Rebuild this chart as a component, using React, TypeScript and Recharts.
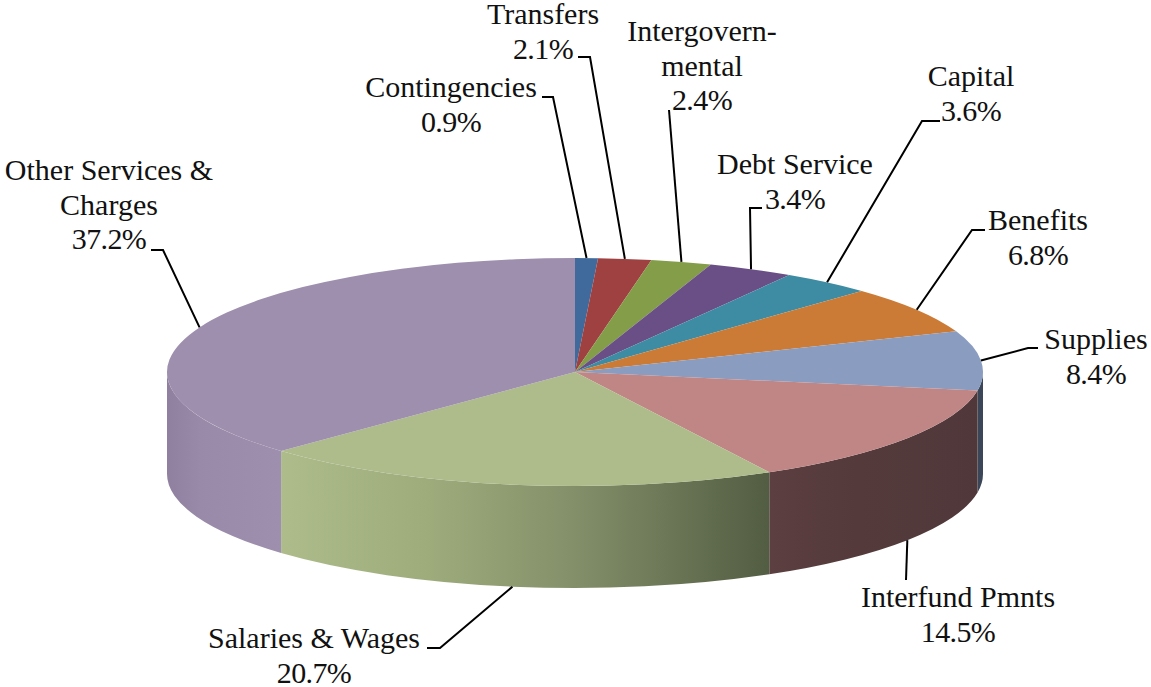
import { PieChart, Pie, Cell } from 'recharts';

const categories = [
  'Contingencies', 'Transfers', 'Intergovernmental', 'Debt Service', 'Capital',
  'Benefits', 'Supplies', 'Interfund Pmnts', 'Salaries & Wages', 'Other Services & Charges',
];
const shares = [0.9, 2.1, 2.4, 3.4, 3.6, 6.8, 8.4, 14.5, 20.7, 37.2];
const colors = [
  '#406a9c', '#9e4140', '#839d49', '#6a4f86', '#3d8ca3',
  '#cb7b36', '#8a9dc0', '#c08685', '#adbc8a', '#9e8fae',
];
const labelLines = [
  ['Contingencies'], ['Transfers'], ['Intergovern-', 'mental'], ['Debt Service'], ['Capital'],
  ['Benefits'], ['Supplies'], ['Interfund Pmnts'], ['Salaries & Wages'], ['Other Services &', 'Charges'],
];

const data = categories.map((name, i) => ({ name, value: shares[i] }));

// label placement: text centre, first baseline, leader start + elbow
const labelLayout = [
  { x: 451, y: 97, leader: [[542, 97], [553, 97]] },
  { x: 543, y: 24, leader: [[578, 57], [590, 57]] },
  { x: 702, y: 41, leader: [[669, 110]] },
  { x: 795, y: 174, leader: [[762, 208], [750, 208]] },
  { x: 971, y: 86, leader: [[940, 121], [922, 121]] },
  { x: 1038, y: 230, leader: [[985, 230], [972, 230]] },
  { x: 1096, y: 349, leader: [[1038, 348], [1028, 348]] },
  { x: 958, y: 607, leader: [[906, 580]] },
  { x: 314, y: 648, leader: [[427, 648], [440, 648]] },
  { x: 109, y: 180, leader: [[151, 250], [163, 250]] },
];

const CX = 575;
const CY = 372;
const RX = 408;
const RY = 114;
const DEPTH = 102;
const LINE_HEIGHT = 34.5;
const RAD = Math.PI / 180;

const px = (a: number) => CX + RX * Math.cos(a * RAD);
const py = (a: number) => CY - RY * Math.sin(a * RAD);

const sideFill: Record<string, string> = {
  Supplies: '#3b4759',
  'Interfund Pmnts': 'url(#sideInterfund)',
  'Salaries & Wages': 'url(#sideSalaries)',
  'Other Services & Charges': 'url(#sideOther)',
};

// squashes the library's circular sector into the tilted ellipse and adds the wall
const TiltedSector = (props: any) => {
  const { startAngle, endAngle, fill, name, payload } = props;
  const label = name ?? payload?.name;
  const large = Math.abs(startAngle - endAngle) > 180 ? 1 : 0;
  const top = `M${CX},${CY} L${px(startAngle)},${py(startAngle)} A${RX},${RY} 0 ${large} 1 ${px(endAngle)},${py(endAngle)} Z`;
  const a1 = Math.min(startAngle, 0);
  const a2 = Math.max(endAngle, -180);
  let wall = null;
  if (a1 > a2) {
    const big = a1 - a2 > 180 ? 1 : 0;
    const d = `M${px(a1)},${py(a1)} A${RX},${RY} 0 ${big} 1 ${px(a2)},${py(a2)} L${px(a2)},${py(a2) + DEPTH} A${RX},${RY} 0 ${big} 0 ${px(a1)},${py(a1) + DEPTH} Z`;
    wall = <path d={d} fill={sideFill[label] ?? fill} />;
  }
  return (
    <g>
      {wall}
      <path d={top} fill={fill} />
    </g>
  );
};

const renderLabel = (props: any) => {
  const { midAngle, index } = props;
  const layout = labelLayout[index];
  const endX = px(midAngle);
  const endY = py(midAngle) + (Math.sin(midAngle * RAD) < 0 ? DEPTH : 0);
  const pts = [...layout.leader, [endX, endY]].map((p) => p.join(',')).join(' ');
  const names = labelLines[index];
  return (
    <g key={categories[index]}>
      <polyline points={pts} fill="none" stroke="#000" strokeWidth={2} />
      <text textAnchor="middle" fill="#111" fontFamily="'Liberation Serif'" fontSize={30}>
        {names.map((row, r) => (
          <tspan key={row} x={layout.x} y={layout.y + r * LINE_HEIGHT}>{row}</tspan>
        ))}
        <tspan x={layout.x} y={layout.y + names.length * LINE_HEIGHT} letterSpacing={-0.6}>
          {`${shares[index].toFixed(1)}%`}
        </tspan>
      </text>
    </g>
  );
};

export default function App() {
  return (
    <div style={{ position: 'absolute', left: 0, top: 0, width: 1151, height: 687 }}>
      <PieChart width={1151} height={687} margin={{ top: 0, right: 0, bottom: 0, left: 0 }}>
        <defs>
          <linearGradient id="sideInterfund" gradientUnits="userSpaceOnUse" x1={772} x2={983} y1={0} y2={0}>
            <stop offset="0" stopColor="#5c3f40" />
            <stop offset="0.4" stopColor="#543a3b" />
            <stop offset="1" stopColor="#50383a" />
          </linearGradient>
          <linearGradient id="sideSalaries" gradientUnits="userSpaceOnUse" x1={280} x2={772} y1={0} y2={0}>
            <stop offset="0" stopColor="#adbc8a" />
            <stop offset="0.3" stopColor="#9eac7c" />
            <stop offset="0.6" stopColor="#838f69" />
            <stop offset="1" stopColor="#515c42" />
          </linearGradient>
          <linearGradient id="sideOther" gradientUnits="userSpaceOnUse" x1={167} x2={280} y1={0} y2={0}>
            <stop offset="0" stopColor="#9080a0" />
            <stop offset="0.3" stopColor="#998aa9" />
            <stop offset="1" stopColor="#9e8fae" />
          </linearGradient>
        </defs>
        <Pie
          data={data}
          dataKey="value"
          nameKey="name"
          cx={CX}
          cy={CY}
          innerRadius={0}
          outerRadius={RX}
          startAngle={90}
          endAngle={-270}
          stroke="none"
          isAnimationActive={false}
          shape={TiltedSector}
          label={renderLabel}
          labelLine={false}
        >
          {data.map((d, i) => (
            <Cell key={d.name} fill={colors[i]} />
          ))}
        </Pie>
      </PieChart>
    </div>
  );
}
